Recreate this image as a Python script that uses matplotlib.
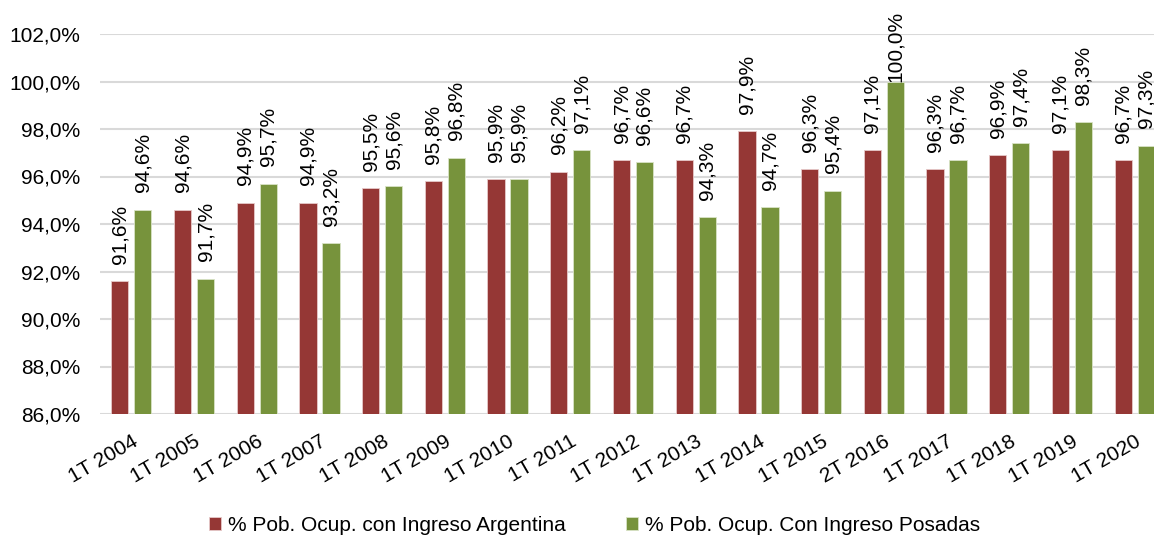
import numpy as np
import matplotlib
matplotlib.use("Agg")
import matplotlib.pyplot as plt

plt.rcParams['font.family'] = ['Liberation Sans', 'DejaVu Sans']

periodos = ['1T 2004', '1T 2005', '1T 2006', '1T 2007', '1T 2008', '1T 2009',
            '1T 2010', '1T 2011', '1T 2012', '1T 2013', '1T 2014', '1T 2015',
            '2T 2016', '1T 2017', '1T 2018', '1T 2019', '1T 2020']
argentina = [91.6, 94.6, 94.9, 94.9, 95.5, 95.8, 95.9, 96.2, 96.7, 96.7,
             97.9, 96.3, 97.1, 96.3, 96.9, 97.1, 96.7]
posadas = [94.6, 91.7, 95.7, 93.2, 95.6, 96.8, 95.9, 97.1, 96.6, 94.3,
           94.7, 95.4, 100.0, 96.7, 97.4, 98.3, 97.3]

rojo = '#953735'
verde = '#77933C'

fig = plt.figure(figsize=(11.54, 5.35), dpi=100)
ax = fig.add_axes([100 / 1154, 1 - 414 / 535, 1066 / 1154, 380 / 535])

x = np.arange(len(periodos))
w = 0.275
off = 0.183
b1 = ax.bar(x - off, argentina, w, color=rojo, edgecolor='#e6c9c9',
            linewidth=0.6, label='% Pob. Ocup. con Ingreso Argentina', zorder=2)
b2 = ax.bar(x + off, posadas, w, color=verde, edgecolor='#d9e3c6',
            linewidth=0.6, label='% Pob. Ocup. Con Ingreso Posadas', zorder=2)


def fmt(v):
    return f'{v:.1f}'.replace('.', ',') + '%'


ticks = np.arange(86, 102.1, 2)
ax.set_ylim(86, 102)
ax.set_xlim(-0.5, len(periodos) - 0.5)
ax.set_yticks(ticks)
ax.set_yticklabels([fmt(t) for t in ticks], fontsize=15)
ax.set_xticks(x)
ax.set_xticklabels(periodos, rotation=30, ha='right', rotation_mode='anchor',
                   fontsize=15)
ax.tick_params(axis='both', length=0)
ax.tick_params(axis='y', pad=14)
ax.tick_params(axis='x', pad=13)
ax.grid(axis='y', color='#d9d9d9', linewidth=1.5, zorder=0)
ax.set_axisbelow(True)
for s in ax.spines.values():
    s.set_visible(False)

# etiquetas de datos, como en Excel: si no entran arriba, se bajan
etiquetas = []
for bars, vals in ((b1, argentina), (b2, posadas)):
    for r, v in zip(bars, vals):
        t = ax.annotate(fmt(v), (r.get_x() + r.get_width() / 2, v),
                        xytext=(0, 12.5), textcoords='offset points',
                        rotation=90, ha='center', va='bottom', fontsize=15,
                        annotation_clip=False)
        etiquetas.append(t)

fig.canvas.draw()
rend = fig.canvas.get_renderer()
tope = fig.bbox.height - 12
for t in etiquetas:
    bb = t.get_window_extent(rend)
    if bb.y1 > tope:
        dy = (bb.y1 - tope) * 72 / fig.dpi
        t.set_position((0, max(0, 12.5 - dy)))

fig.legend(handles=[b1, b2], loc='lower center', bbox_to_anchor=(0.515, -0.035),
           ncol=2, frameon=False, fontsize=15, handlelength=0.6,
           handleheight=0.6, handletextpad=0.3, columnspacing=2.9)

fig.savefig('out.png', dpi=100)
